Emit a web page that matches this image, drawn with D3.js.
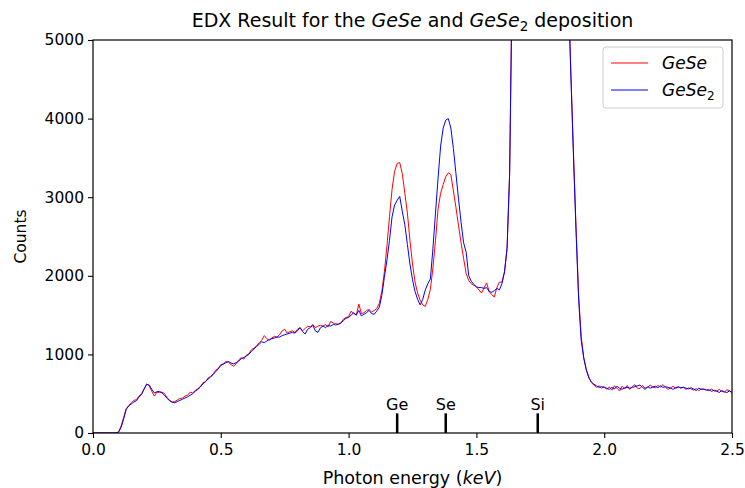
<!DOCTYPE html>
<html>
<head>
<meta charset="utf-8">
<script src="https://cdn.jsdelivr.net/npm/d3@7"></script>
<style>
  html, body { margin: 0; padding: 0; background: #fff; }
  svg { display: block; font-family: "DejaVu Sans", sans-serif; }
</style>
</head>
<body>
<svg id="chart" width="745" height="488"></svg>
<script>
// Detector channel calibration (keV)
const channelStart = 0.0;
const channelWidth = 0.01;

// Counts per channel, GeSe film (0.00 ... 2.50 keV)
const countsGeSe = [
  0, 0, 0, 0, 0, 0, 0, 0, 0, 0,
  15, 90, 200, 310, 350, 385, 415, 425, 470, 500,
  560, 625, 600, 530, 470, 520, 515, 520, 500, 450,
  415, 395, 400, 420, 440, 445, 470, 480, 520, 510,
  540, 565, 590, 640, 650, 700, 720, 750, 800, 820,
  870, 880, 910, 900, 870, 850, 880, 930, 960, 940,
  990, 1010, 1060, 1080, 1110, 1150, 1180, 1240, 1200, 1180,
  1210, 1230, 1220, 1250, 1300, 1320, 1270, 1290, 1300, 1280,
  1320, 1340, 1300, 1330, 1360, 1350, 1380, 1340, 1360, 1370,
  1360, 1380, 1350, 1420, 1400, 1370, 1390, 1400, 1450, 1470,
  1480, 1550, 1520, 1500, 1640, 1520, 1530, 1560, 1570, 1540,
  1560, 1580, 1650, 1800, 2050, 2380, 2750, 3100, 3330, 3430,
  3440, 3300, 3050, 2800, 2450, 2150, 1920, 1780, 1690, 1630,
  1610, 1700, 1830, 2100, 2450, 2850, 3050, 3160, 3260, 3310,
  3290, 3080, 2870, 2640, 2420, 2220, 2030, 1940, 1900, 1880,
  1860, 1820, 1780, 1850, 1910, 1800, 1760, 1730, 1850, 1920,
  1920, 2050, 2350, 3300, 5800, 9200, 14000, 20000, 27000, 34000,
  41000, 47000, 51000, 53500, 54000, 53000, 50000, 45000, 39000, 32000,
  25000, 19000, 14000, 10500, 8400, 7000, 5600, 4550, 3550, 2600,
  1750, 1230, 960, 810, 710, 640, 610, 580, 600, 570,
  590, 555, 585, 545, 600, 570, 535, 595, 560, 605,
  555, 590, 615, 570, 565, 605, 570, 580, 610, 585,
  575, 605, 585, 615, 580, 555, 575, 595, 565, 590,
  570, 585, 555, 575, 560, 545, 565, 540, 560, 555,
  550, 540, 560, 535, 530, 555, 530, 520, 550, 540,
  505
];

// Counts per channel, GeSe2 film (0.00 ... 2.50 keV)
const countsGeSe2 = [
  0, 0, 0, 0, 0, 0, 0, 0, 0, 0,
  10, 70, 180, 300, 345, 370, 395, 410, 460, 490,
  560, 620, 610, 555, 510, 525, 530, 510, 480, 440,
  410, 390, 385, 400, 415, 430, 445, 460, 480, 500,
  530, 555, 585, 625, 655, 685, 710, 745, 780, 815,
  860, 875, 895, 910, 890, 880, 895, 915, 945, 960,
  980, 1000, 1040, 1070, 1100, 1130, 1160, 1150, 1170, 1190,
  1200, 1210, 1220, 1220, 1240, 1250, 1260, 1270, 1280, 1270,
  1300, 1340, 1290, 1260, 1320, 1340, 1370, 1300, 1280, 1340,
  1360, 1340, 1370, 1360, 1380, 1390, 1380, 1400, 1430, 1460,
  1470, 1500, 1530, 1500, 1560, 1490, 1510, 1530, 1560, 1520,
  1510, 1550, 1600, 1750, 1980, 2200, 2450, 2750, 2900, 2960,
  3010, 2820, 2650, 2400, 2150, 1950, 1800, 1700, 1630, 1700,
  1820, 1900, 1960, 2350, 2800, 3240, 3650, 3880, 3980, 4000,
  3880, 3620, 3300, 2980, 2680, 2420, 2300, 2000, 1930, 1890,
  1860, 1850, 1850, 1840, 1850, 1800, 1790, 1810, 1840, 1820,
  1900, 2050, 2350, 3300, 5800, 9200, 14000, 20000, 27000, 34000,
  41000, 47000, 51000, 53500, 54000, 53000, 50000, 45000, 39000, 32000,
  25000, 19000, 14000, 10500, 8400, 7000, 5600, 4500, 3500, 2550,
  1700, 1180, 950, 800, 700, 650, 620, 600, 580, 590,
  580, 570, 555, 580, 560, 595, 570, 555, 575, 580,
  570, 580, 590, 600, 610, 580, 555, 590, 570, 585,
  595, 575, 600, 580, 590, 580, 570, 555, 580, 585,
  575, 580, 570, 560, 575, 560, 540, 570, 555, 560,
  545, 550, 530, 545, 535, 515, 540, 525, 515, 535,
  520
];

// Characteristic line markers
const peakLabels = ["Ge", "Se", "Si"];
const peakEnergies = [1.19, 1.38, 1.74];
const peakMarkerCounts = 250;

// Axis ticks
const xTicks = [0.0, 0.5, 1.0, 1.5, 2.0, 2.5];
const yTicks = [0, 1000, 2000, 3000, 4000, 5000];
const xDomain = [0, 2.5];
const yDomain = [0, 5000];

const seriesNames = ["GeSe", "GeSe2"];
const seriesColors = ["#ff0000", "#0000ff"];

const svg = d3.select("#chart");
const margin = { left: 93, right: 13, top: 40, bottom: 55 };
const W = 745, H = 488;
const innerW = W - margin.left - margin.right;
const innerH = H - margin.top - margin.bottom;

const x = d3.scaleLinear().domain(xDomain).range([0, innerW]);
const y = d3.scaleLinear().domain(yDomain).range([innerH, 0]);

const g = svg.append("g").attr("transform", `translate(${margin.left},${margin.top})`);

svg.append("defs").append("clipPath").attr("id", "plotClip")
  .append("rect").attr("x", 0).attr("y", 0).attr("width", innerW).attr("height", innerH);

const energyOf = i => channelStart + i * channelWidth;
const line = d3.line()
  .x((d, i) => x(energyOf(i)))
  .y(d => y(d));

const plot = g.append("g").attr("clip-path", "url(#plotClip)");
[countsGeSe, countsGeSe2].forEach((series, k) => {
  plot.append("path")
    .datum(series)
    .attr("fill", "none")
    .attr("stroke", seriesColors[k])
    .attr("stroke-width", 1)
    .attr("stroke-linejoin", "round")
    .attr("d", line);
});

// Element markers
const markers = g.append("g");
peakEnergies.forEach((e, i) => {
  markers.append("line")
    .attr("x1", x(e)).attr("x2", x(e))
    .attr("y1", y(0)).attr("y2", y(peakMarkerCounts))
    .attr("stroke", "#000").attr("stroke-width", 2.5);
  markers.append("text")
    .attr("x", x(e)).attr("y", y(peakMarkerCounts) - 3)
    .attr("text-anchor", "middle")
    .attr("font-size", 16)
    .attr("fill", "#000")
    .text(peakLabels[i]);
});

// Axes
const xAxis = g.append("g").attr("transform", `translate(0,${innerH})`)
  .call(d3.axisBottom(x).tickValues(xTicks).tickFormat(d3.format(".1f")).tickSizeOuter(0).tickSize(5).tickPadding(4));
const yAxis = g.append("g")
  .call(d3.axisLeft(y).tickValues(yTicks).tickFormat(d3.format("d")).tickSizeOuter(0).tickSize(5).tickPadding(4));
[xAxis, yAxis].forEach(a => {
  a.select(".domain").remove();
  a.selectAll("line").attr("stroke", "#000").attr("stroke-width", 1.1);
  a.selectAll("text").attr("font-size", 15.5).attr("fill", "#000")
    .attr("font-family", "DejaVu Sans, sans-serif");
});
xAxis.selectAll("text").attr("dy", "0.85em");

// Frame
g.append("rect")
  .attr("x", 0).attr("y", 0).attr("width", innerW).attr("height", innerH)
  .attr("fill", "none").attr("stroke", "#000").attr("stroke-width", 1.2);

// Title
const title = svg.append("text")
  .attr("x", margin.left + innerW / 2).attr("y", 27)
  .attr("text-anchor", "middle").attr("font-size", 19).attr("fill", "#000");
title.append("tspan").text("EDX Result for the ");
title.append("tspan").attr("font-style", "italic").text("GeSe");
title.append("tspan").text(" and ");
title.append("tspan").attr("font-style", "italic").text("GeSe");
title.append("tspan").attr("font-size", 13.5).attr("dy", 4).text("2");
title.append("tspan").attr("dy", -4).text(" deposition");

// Axis labels
const xl = svg.append("text")
  .attr("x", margin.left + innerW / 2).attr("y", 484)
  .attr("text-anchor", "middle").attr("font-size", 17.5).attr("fill", "#000");
xl.append("tspan").text("Photon energy (");
xl.append("tspan").attr("font-style", "italic").text("keV");
xl.append("tspan").text(")");

svg.append("text")
  .attr("transform", `translate(26,${margin.top + innerH / 2}) rotate(-90)`)
  .attr("text-anchor", "middle").attr("font-size", 15.5).attr("fill", "#000")
  .text("Counts");

// Legend
const lg = g.append("g").attr("transform", `translate(${innerW - 129},7)`);
lg.append("rect")
  .attr("x", 0).attr("y", 0).attr("width", 120).attr("height", 61)
  .attr("rx", 3).attr("fill", "#fff").attr("fill-opacity", 0.85)
  .attr("stroke", "#cccccc").attr("stroke-width", 1);
seriesNames.forEach((name, i) => {
  const yy = 16 + i * 27;
  lg.append("line").attr("x1", 8).attr("x2", 45).attr("y1", yy).attr("y2", yy)
    .attr("stroke", seriesColors[i]).attr("stroke-width", 1);
  const t = lg.append("text").attr("x", 59).attr("y", yy + 6)
    .attr("font-size", 17).attr("font-style", "italic").attr("fill", "#000");
  if (name.endsWith("2")) {
    t.append("tspan").text(name.slice(0, -1));
    t.append("tspan").attr("font-size", 12).attr("dy", 4).attr("font-style", "normal").text("2");
  } else {
    t.text(name);
  }
});
</script>
</body>
</html>
